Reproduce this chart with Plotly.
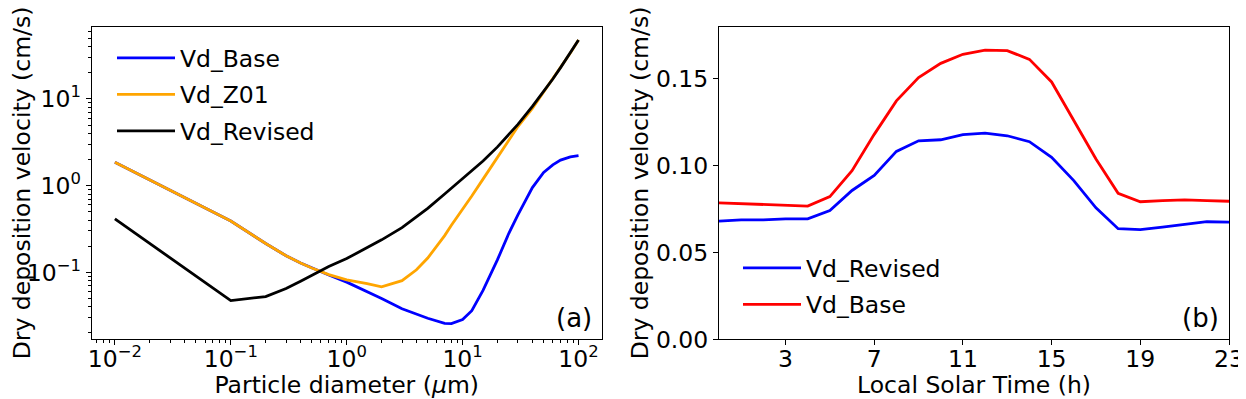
import plotly.graph_objects as go

# particle diameter (um) and dry deposition velocity (cm/s) for panel (a)
diam = [0.01, 0.1, 0.2, 0.3, 0.4, 0.5, 0.7, 1, 1.5, 2, 3, 4, 5, 7, 8, 10,
        12, 15, 20, 25, 30, 40, 50, 60, 70, 85, 100]
vd_base = [1.86, 0.39, 0.215, 0.155, 0.128, 0.112, 0.093, 0.077, 0.060, 0.050,
           0.038, 0.033, 0.0295, 0.0257, 0.0256, 0.0285, 0.036, 0.062, 0.14,
           0.28, 0.46, 0.95, 1.42, 1.74, 1.97, 2.15, 2.22]
vd_z01 = [1.86, 0.39, 0.215, 0.155, 0.128, 0.112, 0.094, 0.082, 0.074, 0.068,
          0.080, 0.107, 0.146, 0.265, 0.35, 0.53, 0.76, 1.19, 2.12, 3.3, 4.8,
          7.8, 12.0, 17.0, 23.0, 34.0, 48]
vd_revised = [0.413, 0.0472, 0.0525, 0.065, 0.079, 0.092, 0.117, 0.144, 0.191,
              0.237, 0.328, 0.437, 0.547, 0.80, 0.93, 1.2, 1.47, 1.92, 2.80,
              3.86, 5.1, 8.2, 12.1, 17.0, 23.0, 34.0, 48]

# local solar time (h) for panel (b)
hours = list(range(24))
lst_revised = [0.0681, 0.0688, 0.0688, 0.0694, 0.0694, 0.0742, 0.0857, 0.0943,
               0.1082, 0.1143, 0.1149, 0.1178, 0.1187, 0.1172, 0.1138, 0.1048,
               0.0914, 0.0757, 0.0637, 0.0631, 0.0646, 0.0660, 0.0677, 0.0675]
lst_base = [0.0786, 0.0782, 0.0778, 0.0772, 0.0767, 0.0822, 0.0971, 0.118,
            0.1373, 0.1507, 0.1589, 0.1641, 0.1665, 0.1662, 0.1612, 0.1482,
            0.1258, 0.1038, 0.0841, 0.0792, 0.0799, 0.0803, 0.0799, 0.0795]

FONT = "DejaVu Sans"
FS = 23.5
LW = 2.8
# page is 1246x399 but the html body has an 8px margin, so the figure is
# shrunk by that amount and page pixel positions are shifted accordingly
OFF = 8
W, H = 1246 - OFF, 399 - OFF


def px_x(p):
    return (p - OFF) / W


def px_y(p):
    return 1 - (p - OFF) / H


fig = go.Figure()

fig.add_trace(go.Scatter(x=diam, y=vd_base, mode="lines", name="Vd_Base",
                         line=dict(color="#0000ff", width=LW),
                         xaxis="x", yaxis="y", legend="legend", legendgroup="a1"))
fig.add_trace(go.Scatter(x=diam, y=vd_z01, mode="lines", name="Vd_Z01",
                         line=dict(color="#ffa500", width=LW),
                         xaxis="x", yaxis="y", legend="legend", legendgroup="a2"))
fig.add_trace(go.Scatter(x=diam, y=vd_revised, mode="lines", name="Vd_Revised",
                         line=dict(color="black", width=LW),
                         xaxis="x", yaxis="y", legend="legend", legendgroup="a3"))

fig.add_trace(go.Scatter(x=hours, y=lst_revised, mode="lines", name="Vd_Revised",
                         line=dict(color="#0000ff", width=LW),
                         xaxis="x2", yaxis="y2", legend="legend2", legendgroup="b1"))
fig.add_trace(go.Scatter(x=hours, y=lst_base, mode="lines", name="Vd_Base",
                         line=dict(color="#ff0000", width=LW),
                         xaxis="x2", yaxis="y2", legend="legend2", legendgroup="b2"))

ydom = [px_y(339.3), px_y(26.7)]
axis_common = dict(showline=True, linecolor="black", linewidth=1.1, mirror=True,
                   ticks="outside", ticklen=5, tickwidth=1.1, tickcolor="black",
                   showgrid=False, zeroline=False, automargin=False,
                   tickfont=dict(family=FONT, size=FS, color="black"))

minor_vals = [k * 10 ** e for e in range(-3, 3) for k in range(2, 10)]
log_ticks = [0.01, 0.1, 1, 10, 100]
log_text = ["10<sup>−2</sup>", "10<sup>−1</sup>", "10<sup>0</sup>",
            "10<sup>1</sup>", "10<sup>2</sup>"]

fig.update_layout(
    width=W, height=H,
    margin=dict(l=0, r=0, t=0, b=0),
    paper_bgcolor="white", plot_bgcolor="white",
    font=dict(family=FONT, size=FS, color="black"),
    xaxis=dict(domain=[px_x(91.7), px_x(601.7)], type="log", range=[-2.2, 2.2],
               tickvals=log_ticks, ticktext=log_text, ticklabelstandoff=-7,
               minor=dict(ticks="outside", ticklen=3, tickcolor="black",
                          tickvals=minor_vals),
               title=dict(text="Particle diameter (<i>μ</i>m)",
                          font=dict(family=FONT, size=FS), standoff=3),
               anchor="y", **axis_common),
    yaxis=dict(domain=ydom, type="log", range=[-1.773, 1.834],
               tickvals=[0.1, 1, 10], ticktext=log_text[1:4],
               minor=dict(ticks="outside", ticklen=3, tickcolor="black",
                          tickvals=minor_vals),
               title=dict(text="Dry deposition velocity (cm/s)",
                          font=dict(family=FONT, size=FS), standoff=9),
               anchor="x", **axis_common),
    xaxis2=dict(domain=[px_x(719), px_x(1229)], range=[0, 23],
                tickvals=[3, 7, 11, 15, 19, 23], ticklabelstandoff=-7,
                title=dict(text="Local Solar Time (h)",
                           font=dict(family=FONT, size=FS), standoff=3),
                anchor="y2", **axis_common),
    yaxis2=dict(domain=ydom, range=[0, 0.18],
                tickvals=[0, 0.05, 0.10, 0.15], tickformat=".2f",
                title=dict(text="Dry deposition velocity (cm/s)",
                           font=dict(family=FONT, size=FS), standoff=0),
                anchor="x2", **axis_common),
    legend=dict(x=px_x(112), y=px_y(36), xanchor="left", yanchor="top",
                bgcolor="rgba(0,0,0,0)", borderwidth=0, itemwidth=58,
                tracegroupgap=3, font=dict(family=FONT, size=FS)),
    legend2=dict(x=px_x(738), y=px_y(246), xanchor="left", yanchor="top",
                 bgcolor="rgba(0,0,0,0)", borderwidth=0, itemwidth=58,
                 tracegroupgap=3, font=dict(family=FONT, size=FS)),
    annotations=[
        dict(text="(a)", x=0.985, y=0.015, xref="x domain", yref="y domain",
             xanchor="right", yanchor="bottom", showarrow=False,
             font=dict(family=FONT, size=26)),
        dict(text="(b)", x=0.985, y=0.015, xref="x2 domain", yref="y2 domain",
             xanchor="right", yanchor="bottom", showarrow=False,
             font=dict(family=FONT, size=26)),
    ],
)

fig.write_html("out.html")
